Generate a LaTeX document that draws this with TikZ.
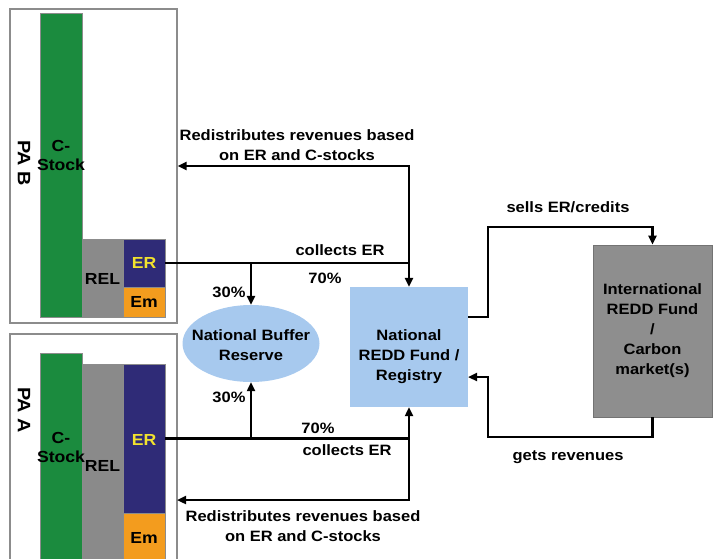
\documentclass[tikz,border=0pt]{standalone}
\usepackage{fontspec}
\setmainfont{Liberation Sans}[FakeStretch=1.1]
\usetikzlibrary{arrows.meta,shapes.geometric}
\definecolor{cgreen}{HTML}{1B8B3E}
\definecolor{cgray}{HTML}{8A8A8A}
\definecolor{cnavy}{HTML}{2F2B77}
\definecolor{corange}{HTML}{F39C1E}
\definecolor{cyellow}{HTML}{F2E22E}
\definecolor{cblue}{HTML}{A7C9EE}
\definecolor{cintl}{HTML}{8E8E8E}
\definecolor{cpanel}{HTML}{8C8C8C}
\tikzset{
  txt/.style={font=\fontsize{15}{20}\selectfont\bfseries, align=center, inner sep=0pt},
  bigtxt/.style={font=\fontsize{16}{19}\selectfont\bfseries, align=center, inner sep=0pt},
  patxt/.style={font=\fontsize{18}{20}\selectfont\bfseries, inner sep=0pt},
  panel/.style={draw=cpanel, line width=1.2pt, fill=white, inner sep=0pt},
  bar/.style={inner sep=0pt, draw=black!45, line width=0.5pt},
  arr/.style={line width=2.2pt, -{Triangle[length=9pt,width=8pt]}},
  dbl/.style={line width=2.2pt, {Triangle[length=9pt,width=8pt]}-{Triangle[length=9pt,width=8pt]}},
  ln/.style={line width=2.2pt}
}
\begin{document}
\begin{tikzpicture}[x=1pt,y=-1pt]
\useasboundingbox (0,0) rectangle (719,558);
\begin{scope}
\clip (0,0) rectangle (719,558);
% ---- PA B panel
\node[panel, minimum width=167, minimum height=314] (panelB) at (93.5,166) {};
\node[bar, fill=cgreen, minimum width=42, minimum height=304] (csB) at (61,165) {};
\node[bar, fill=cgray, minimum width=41, minimum height=78] (relB) at (102.5,278) {};
\node[bar, fill=cnavy, minimum width=42, minimum height=48] (erB) at (144,263) {};
\node[bar, fill=corange, minimum width=42, minimum height=30] (emB) at (144,302) {};
\node[patxt, rotate=-90] (paB) at (24,163) {PA B};
\node[bigtxt] (csBl) at (61,155) {C-\\Stock};
\node[bigtxt] (relBl) at (102.5,279) {REL};
\node[bigtxt, text=cyellow] (erBl) at (144,263) {ER};
\node[bigtxt] (emBl) at (144,302) {Em};
% ---- PA A panel
\node[panel, minimum width=167, minimum height=236] (panelA) at (93.5,452) {};
\node[bar, fill=cgreen, minimum width=42, minimum height=217] (csA) at (61,461.5) {};
\node[bar, fill=cgray, minimum width=41, minimum height=206] (relA) at (102.5,467) {};
\node[bar, fill=cnavy, minimum width=42, minimum height=149] (erA) at (144,438.5) {};
\node[bar, fill=corange, minimum width=42, minimum height=57] (emA) at (144,541.5) {};
\node[patxt, rotate=-90] (paA) at (24,410) {PA A};
\node[bigtxt] (csAl) at (61,447) {C-\\Stock};
\node[bigtxt] (relAl) at (102.5,466) {REL};
\node[bigtxt, text=cyellow] (erAl) at (144,440) {ER};
\node[bigtxt] (emAl) at (144,538) {Em};
\end{scope}
% ---- central nodes
\node[ellipse, fill=cblue, minimum width=137, minimum height=77, inner sep=0pt] (buffer) at (251,343.5) {};
\node[txt] (bufferl) at (251,345) {National Buffer\\Reserve};
\node[fill=cblue, minimum width=118, minimum height=120, inner sep=0pt] (redd) at (409,347) {};
\node[txt] (reddl) at (409,357) {National\\REDD Fund /\\Registry};
\node[fill=cintl, draw=black!55, line width=0.8pt, minimum width=119, minimum height=172, inner sep=0pt, txt] (intl) at (652.5,331) {International\\REDD Fund\\/\\Carbon\\market(s)};
% ---- connectors top
\draw[ln] (erB.east) -- (erB.east -| redd.north);
\draw[dbl] (redd.north) |- (panelB.east);
\draw[arr] (erB.east -| buffer.north) -- (buffer.north);
% ---- connectors bottom
\coordinate (redistA) at (177,500);
\draw[ln] (erA.east) -- (erA.east -| redd.south);
\draw[dbl] (redd.south) |- (redistA);
\draw[arr] (erA.east -| buffer.south) -- (buffer.south);
% ---- connectors right
\coordinate (sellS) at (468,317);
\coordinate (getE) at (468,377);
\draw[arr] (sellS) -- (488,317) -- (488,227) -| (intl.north);
\draw[arr] (intl.south) |- (488,437) -- (488,377) -- (getE);
% ---- labels
\node[txt] (redistBl) at (297,145) {Redistributes revenues based\\on ER and C-stocks};
\node[txt] (collBl) at (340,250) {collects ER};
\node[txt] (p70B) at (325,278) {70\%};
\node[txt] (p30B) at (229,292) {30\%};
\node[txt] (p30A) at (229,397) {30\%};
\node[txt] (p70A) at (318,428) {70\%};
\node[txt] (collAl) at (347,450) {collects ER};
\node[txt] (redistAl) at (303,526) {Redistributes revenues based\\on ER and C-stocks};
\node[txt] (sellsl) at (568,207) {sells ER/credits};
\node[txt] (getsl) at (568,457) {gets revenues};
\end{tikzpicture}
\end{document}
